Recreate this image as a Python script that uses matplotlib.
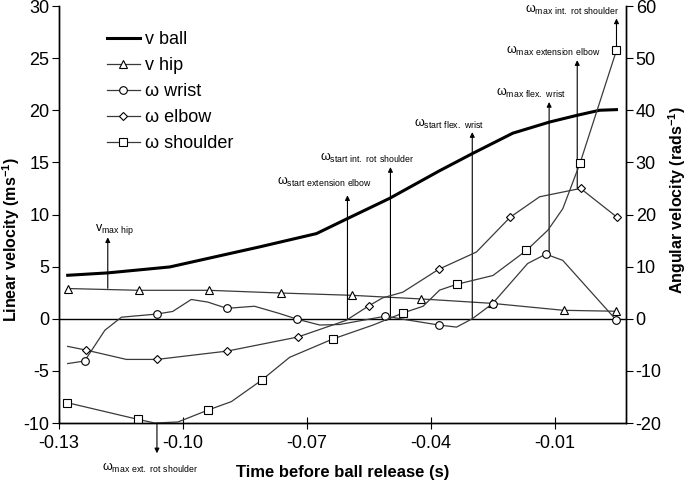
import matplotlib
matplotlib.use("Agg")
import matplotlib.pyplot as plt

plt.rcParams['font.family'] = ['Liberation Sans', 'DejaVu Sans']
plt.rcParams['axes.unicode_minus'] = False
plt.rcParams['mathtext.fontset'] = 'custom'
plt.rcParams['mathtext.rm'] = 'Liberation Sans'
plt.rcParams['mathtext.bf'] = 'Liberation Sans:bold'

# linear velocity of the ball (m/s)
t_ball = [-0.1279, -0.1182, -0.1032, -0.0814, -0.0677, -0.0601, -0.0500, -0.0379,
          -0.0299, -0.0202, -0.0113, -0.0048, 0.0008, 0.0049]
v_ball = [4.17, 4.4, 4.97, 6.9, 8.17, 9.63, 11.55, 14.2, 15.86, 17.8, 18.87, 19.5, 20.0, 20.06]

# linear velocity of the hip (m/s)
t_hip = [-0.1279, -0.1107, -0.0938, -0.0764, -0.0592, -0.0423, -0.0253, -0.0079, 0.0049]
v_hip = [2.9, 2.73, 2.73, 2.47, 2.25, 1.9, 1.48, 0.81, 0.72]

# angular velocities (rad/s)
t_wrist = [-0.1279, -0.1238, -0.1189, -0.1149, -0.1064, -0.1025, -0.0980, -0.0940, -0.0894,
           -0.0827, -0.0766, -0.0723, -0.0669, -0.0621, -0.0510, -0.0459, -0.0381, -0.0338,
           -0.0300, -0.0251, -0.0166, -0.0122, -0.0081, 0.0049]
w_wrist = [-8.6, -8.1, -2.2, 0.3, 0.9, 1.4, 3.7, 3.2, 2.0, 2.4, 1.0, -0.1, -1.2, -1.1, 0.5,
           -0.2, -1.2, -1.6, 0.0, 2.9, 10.6, 12.4, 11.2, -0.3]
mk_wrist = [1, 4, 8, 11, 14, 16, 19, 21, 23]

t_elbow = [-0.1279, -0.1235, -0.1137, -0.1063, -0.0893, -0.0722, -0.0605, -0.0550, -0.0517,
           -0.0468, -0.0381, -0.0290, -0.0208, -0.0137, -0.0038, 0.0050]
w_elbow = [-5.3, -6.0, -7.8, -7.8, -6.2, -3.5, -0.3, 2.5, 4.0, 5.1, 9.5, 12.8, 19.5, 23.4,
           25.0, 19.5]
mk_elbow = [1, 3, 4, 5, 7, 10, 12, 14, 15]

t_shoulder = [-0.1280, -0.1109, -0.1068, -0.1012, -0.0939, -0.0883, -0.0810, -0.0742, -0.0638,
              -0.0540, -0.0468, -0.0419, -0.0379, -0.0338, -0.0250, -0.0169, -0.0117, -0.0081,
              -0.0039, 0.0049]
w_shoulder = [-16.1, -19.3, -20.0, -19.8, -17.5, -15.9, -11.8, -7.4, -3.9, -1.2, 1.1, 2.4,
              5.5, 6.6, 8.3, 13.1, 17.0, 21.1, 29.9, 51.5]
mk_shoulder = [0, 1, 4, 6, 8, 10, 13, 15, 18, 19]

# event annotations: label, time, arrow base, arrow tip, label x, label y (linear axis units)
events = [
    (r'v$_{\rm max\ hip}$', -0.1182, 2.92, 7.81, -0.1165, 8.58),
    (r'ω$_{\rm max\ ext.\ rot\ shoulder}$', -0.1063, -10.0, -12.9, -0.1080, -14.33),
    (r'ω$_{\rm start\ extension\ elbow}$', -0.0602, 0.0, 11.84, -0.0657, 13.12),
    (r'ω$_{\rm start\ int.\ rot\ shoulder}$', -0.0498, 0.0, 14.55, -0.0553, 15.46),
    (r'ω$_{\rm start\ flex.\ wrist}$', -0.0300, 0.0, 17.9, -0.0357, 18.72),
    (r'ω$_{\rm max\ flex.\ wrist}$', -0.0114, 6.18, 20.79, -0.0159, 21.65),
    (r'ω$_{\rm max\ extension\ elbow}$', -0.0046, 12.5, 24.8, -0.0104, 25.68),
    (r'ω$_{\rm max\ int.\ rot\ shoulder}$', 0.0049, 25.74, 28.8, -0.0058, 29.58),
]

fig = plt.figure(figsize=(6.87, 4.84), dpi=100)
ax = fig.add_axes([0.0859, 0.126, 0.8253, 0.8616])
ax2 = ax.twinx()

gray = '#3a3a3a'
mk = dict(markerfacecolor='white', markeredgecolor='black', markeredgewidth=0.8)

h_ball, = ax.plot(t_ball, v_ball, color='black', lw=2.2, label='v ball', zorder=4)
h_hip, = ax.plot(t_hip, v_hip, color=gray, lw=0.9, marker='^', ms=6, label='v hip', **mk)
h_wr, = ax2.plot(t_wrist, w_wrist, color=gray, lw=0.9, marker='o', ms=5.5,
                 markevery=mk_wrist, label='ω wrist', **mk)
h_el, = ax2.plot(t_elbow, w_elbow, color=gray, lw=0.9, marker='D', ms=4.5,
                 markevery=mk_elbow, label='ω elbow', **mk)
h_sh, = ax2.plot(t_shoulder, w_shoulder, color=gray, lw=0.9, marker='s', ms=6,
                 markevery=mk_shoulder, label='ω shoulder', **mk)

ax.axhline(0, color='black', lw=1)

for label, t, y0, y1, lx, ly in events:
    ax.annotate('', xy=(t, y1), xytext=(t, y0), annotation_clip=False,
                arrowprops=dict(arrowstyle='-|>', color='black', lw=0.8,
                                mutation_scale=7, shrinkA=0, shrinkB=0))
    ax.text(lx, ly, label, ha='center', va='center', fontsize=9, clip_on=False)

ax.set_xlim(-0.13, 0.0072)
ax.set_ylim(-10, 30)
ax2.set_ylim(-20, 60)
ax.set_xticks([-0.13, -0.10, -0.07, -0.04, -0.01])
ax.set_xticklabels(['-0.13', '-0.10', '-0.07', '-0.04', '-0.01'])
ax.set_yticks(range(-10, 31, 5))
ax2.set_yticks(range(-20, 61, 10))

for a in (ax, ax2):
    a.spines['top'].set_visible(False)
    for s in a.spines.values():
        s.set_linewidth(1)
ax.tick_params(axis='y', direction='out', length=5, labelsize=13, pad=2)
ax2.tick_params(axis='y', direction='out', length=5, labelsize=13, pad=2)
ax.tick_params(axis='x', direction='inout', length=9, labelsize=13, pad=4)

ax.set_xlabel('Time before ball release (s)', fontsize=12, fontweight='bold')
ax.xaxis.set_label_coords(0.5, -0.1)
ax.set_ylabel(r'Linear velocity (ms$^{\mathbf{-1}}$)', fontsize=11.5, fontweight='bold')
ax.yaxis.set_label_coords(-0.066, 0.44)
ax2.set_ylabel(r'Angular velocity (rads$^{\mathbf{-1}}$)', fontsize=11.5, fontweight='bold',
               rotation=90)
ax2.yaxis.set_label_coords(1.071, 0.535)

ax.legend(handles=[h_ball, h_hip, h_wr, h_el, h_sh], loc='upper left',
          bbox_to_anchor=(0.0847, 0.94), frameon=False, fontsize=13,
          handlelength=1.8, handletextpad=0.3, borderpad=0, borderaxespad=0,
          labelspacing=0.5)

fig.savefig('out.png', dpi=100)
